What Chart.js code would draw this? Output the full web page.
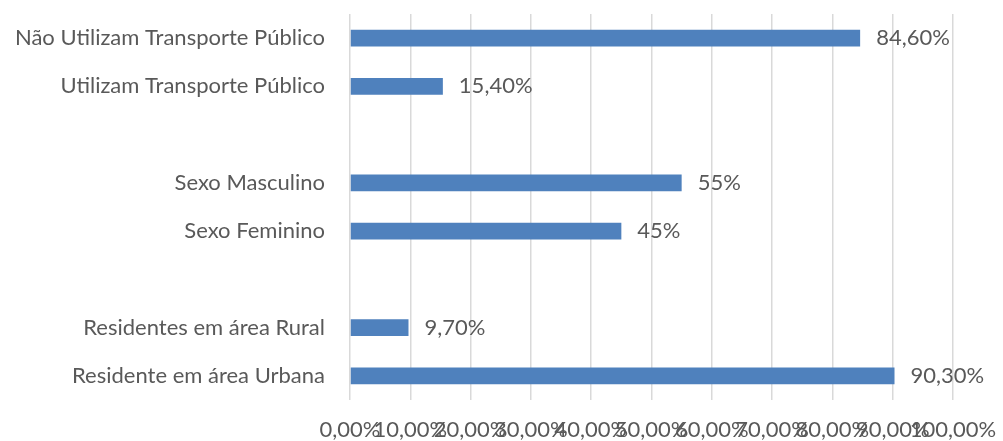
<!DOCTYPE html>
<html>
<head>
<meta charset="utf-8">
<script src="https://cdn.jsdelivr.net/npm/chart.js@4"></script>
<style>
  html, body { margin: 0; padding: 0; background: #fff; }
</style>
</head>
<body>
<canvas id="grafico" width="1003" height="441"></canvas>
<script>
// Dados do gráfico
const categorias = [
    'Não Utilizam Transporte Público',
    'Utilizam Transporte Público',
    '',
    'Sexo Masculino',
    'Sexo Feminino',
    '',
    'Residentes em área Rural',
    'Residente em área Urbana'
];
const valores = [84.6, 15.4, null, 55, 45, null, 9.7, 90.3];
const rotulos = ['84,60%', '15,40%', '', '55%', '45%', '', '9,70%', '90,30%'];
const ticksX = ['0,00%', '10,00%', '20,00%', '30,00%', '40,00%', '50,00%',
    '60,00%', '70,00%', '80,00%', '90,00%', '100,00%'];

const fonte = 'Lato';
const corTexto = '#595959';

// Rótulos de valor ao lado das barras
const rotulosPlugin = {
    id: 'rotulos',
    afterDatasetsDraw(chart) {
        const ctx = chart.ctx;
        const meta = chart.getDatasetMeta(0);
        ctx.save();
        ctx.font = '22px ' + fonte;
        ctx.fillStyle = corTexto;
        ctx.textAlign = 'left';
        ctx.textBaseline = 'middle';
        meta.data.forEach((bar, i) => {
            if (valores[i] === null) return;
            ctx.fillText(rotulos[i], bar.x + 16, bar.y);
        });
        ctx.restore();
    }
};

const config = {
    type: 'bar',
    data: {
        labels: categorias,
        datasets: [{
            data: valores,
            backgroundColor: '#4f81bd',
            categoryPercentage: 1,
            barPercentage: 0.35
        }]
    },
    options: {
        indexAxis: 'y',
        responsive: false,
        animation: false,
        devicePixelRatio: 1,
        layout: { padding: { top: 14, right: 50, left: 0, bottom: 0 } },
        plugins: {
            legend: { display: false },
            tooltip: { enabled: false }
        },
        scales: {
            x: {
                min: 0,
                max: 100,
                ticks: {
                    stepSize: 10,
                    color: corTexto,
                    font: { family: fonte, size: 22 },
                    padding: 17,
                    maxRotation: 0,
                    autoSkip: false,
                    callback: (v, i) => ticksX[i]
                },
                grid: { color: '#d9d9d9', lineWidth: 1.5, drawTicks: false },
                border: { display: false },
                afterFit: s => {
                    s.height = 41;
                    s.paddingLeft = 0;
                    s.paddingRight = 0;
                }
            },
            y: {
                ticks: {
                    color: corTexto,
                    font: { family: fonte, size: 22 },
                    padding: 25,
                    autoSkip: false
                },
                grid: { display: false, drawTicks: false },
                border: { display: false },
                afterFit: s => {
                    s.width = 350;
                    s.paddingTop = 0;
                    s.paddingBottom = 0;
                }
            }
        }
    },
    plugins: [rotulosPlugin]
};

new Chart(document.getElementById('grafico').getContext('2d'), config);
</script>
</body>
</html>
